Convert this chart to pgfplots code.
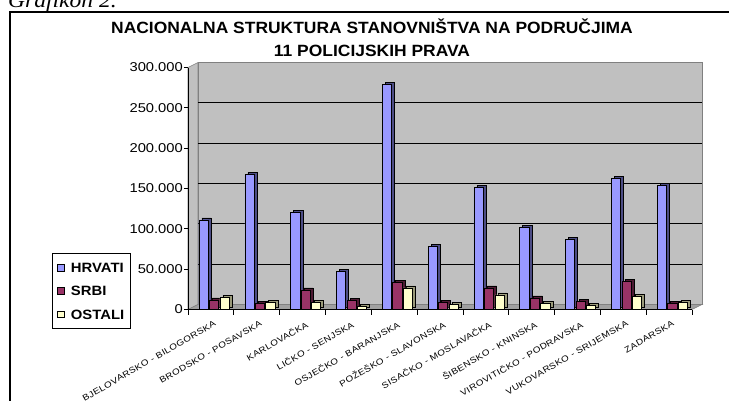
\documentclass[border=0pt]{standalone}
\usepackage{fontspec}
\setmainfont{Liberation Sans}
\newfontfamily\titlefont{Liberation Sans}[FakeStretch=1.07]
\newfontfamily\tickfont{Liberation Sans}[FakeStretch=1.15]
\newfontfamily\xlabfont{Liberation Sans}[FakeStretch=1.16, LetterSpace=4]
\newfontfamily\legfont{Liberation Sans}[FakeStretch=1.1]
\newfontfamily\capfont{Liberation Serif}[FakeStretch=1.12]
\usepackage{pgfplots}
\pgfplotsset{compat=1.18}
\usepackage{pgfplotstable}

\definecolor{hcol}{HTML}{9999FF}
\definecolor{hside}{HTML}{4D4D85}
\definecolor{scol}{HTML}{993366}
\definecolor{sside}{HTML}{4D1A33}
\definecolor{ocol}{HTML}{FFFFCC}
\definecolor{oside}{HTML}{9A9A7A}
\definecolor{wallgray}{HTML}{C0C0C0}
\definecolor{floorgray}{HTML}{A0A0A0}
\definecolor{edgegray}{HTML}{808080}

\pgfplotstableread{
x H S O
0 111000 11800 14900
1 167600 7700 8400
2 120500 24200 8400
3 47700 10900 4300
4 279500 33200 26700
5 78700 8400 6800
6 151000 26700 18000
7 101900 14300 7700
8 87000 10200 5200
9 162100 35300 16700
10 153500 7700 8400
}\data

\begin{document}
\begin{tikzpicture}
\useasboundingbox (0,0) rectangle (729pt,400pt);
\draw[line width=1.3pt] (10pt,-5pt) -- (10pt,388pt) -- (740pt,388pt);
\node[anchor=base west, inner sep=0pt, font=\capfont\itshape\fontsize{21}{21}\selectfont] at (8pt,392.5pt) {Grafikon 2.};
\node[anchor=base, inner sep=0pt, font=\titlefont\bfseries\fontsize{16.3}{16}\selectfont] at (372pt,366.7pt) {NACIONALNA STRUKTURA STANOVNIŠTVA NA PODRUČJIMA};
\node[anchor=base, inner sep=0pt, font=\titlefont\bfseries\fontsize{16.3}{16}\selectfont] at (372pt,343.3pt) {11 POLICIJSKIH PRAVA};

\begin{axis}[
  at={(188pt,90.5pt)}, anchor=south west,
  scale only axis, width=504pt, height=242pt,
  xmin=-0.5, xmax=10.5, ymin=0, ymax=300000,
  clip=false, axis on top,
  axis x line*=bottom, axis y line*=left,
  axis line style={-, line width=0.8pt, black},
  tick align=outside, major tick length=4pt, minor tick length=5pt,
  xtick={0,...,10},
  minor xtick={-0.5,0.5,...,10.5},
  major x tick style={draw=none},
  minor x tick style={black, line width=0.7pt},
  ytick={0,50000,...,300000},
  y tick style={black, line width=0.7pt},
  scaled y ticks=false,
  /pgf/number format/.cd, fixed, 1000 sep={.}, assume math mode=true, /pgfplots/.cd,
  yticklabel style={font=\tickfont\fontsize{12.8}{13}\selectfont, inner sep=1pt},
  xticklabels={BJELOVARSKO - BILOGORSKA, BRODSKO - POSAVSKA, KARLOVAČKA, LIČKO - SENJSKA, OSJEČKO - BARANJSKA, POŽEŠKO - SLAVONSKA, SISAČKO - MOSLAVAČKA, ŠIBENSKO - KNINSKA, VIROVITIČKO - PODRAVSKA, VUKOVARSKO - SRIJEMSKA, ZADARSKA},
  xticklabel style={rotate=30, anchor=north east, font=\xlabfont\fontsize{8.5}{9}\selectfont, inner sep=0pt, xshift=-1pt, yshift=-7pt},
  legend style={at={(axis description cs:-0.2698,0.2335)}, anchor=north west, draw=black, line width=0.8pt, fill=white,
    font=\legfont\bfseries\fontsize{13.5}{13.5}\selectfont, row sep=10.5pt, inner xsep=5pt, inner ysep=8pt,
    nodes={inner sep=1.5pt, text height=9.8pt, text depth=0pt},
    /tikz/every odd column/.append style={column sep=5pt}},
  legend cell align=left,
  legend image code/.code={\draw[#1, draw=black, line width=0.5pt] (0pt,-3pt) rectangle (6.5pt,3.5pt);},
]
% walls and floor
\filldraw[fill=wallgray, draw=edgegray, line width=0.6pt] (axis cs:-0.5,0) -- ([shift={(10pt,5pt)}]axis cs:-0.5,0) -- ([shift={(10pt,5pt)}]axis cs:-0.5,300000) -- (axis cs:-0.5,300000) -- cycle;
\filldraw[fill=wallgray, draw=edgegray, line width=0.8pt] ([shift={(10pt,5pt)}]axis cs:-0.5,0) rectangle ([shift={(10pt,5pt)}]axis cs:10.5,300000);
\filldraw[fill=floorgray, draw=edgegray, line width=0.6pt] (axis cs:-0.5,0) -- (axis cs:10.5,0) -- ([shift={(10pt,5pt)}]axis cs:10.5,0) -- ([shift={(10pt,5pt)}]axis cs:-0.5,0) -- cycle;
\pgfplotsinvokeforeach{50000,100000,150000,200000,250000}{
  \draw[black, line width=0.8pt] ([shift={(10pt,5pt)}]axis cs:-0.5,#1) -- ([shift={(10pt,5pt)}]axis cs:10.5,#1);
}
% bars
\addplot[ybar, bar width=0.2, bar shift=-0.16, fill=hside, draw=black, line width=0.5pt, xshift=3pt, yshift=2pt, forget plot] table[x=x,y=H]{\data};
\addplot[ybar, bar width=0.2, bar shift=-0.16, fill=hcol, draw=black, line width=0.5pt] table[x=x,y=H]{\data};
\addplot[ybar, bar width=0.2, bar shift=0.068, fill=sside, draw=black, line width=0.5pt, xshift=3pt, yshift=2pt, forget plot] table[x=x,y=S]{\data};
\addplot[ybar, bar width=0.2, bar shift=0.068, fill=scol, draw=black, line width=0.5pt] table[x=x,y=S]{\data};
\addplot[ybar, bar width=0.2, bar shift=0.296, fill=oside, draw=black, line width=0.5pt, xshift=3pt, yshift=2pt, forget plot] table[x=x,y=O]{\data};
\addplot[ybar, bar width=0.2, bar shift=0.296, fill=ocol, draw=black, line width=0.5pt] table[x=x,y=O]{\data};
\legend{HRVATI, SRBI, OSTALI}
\end{axis}
\end{tikzpicture}
\end{document}
